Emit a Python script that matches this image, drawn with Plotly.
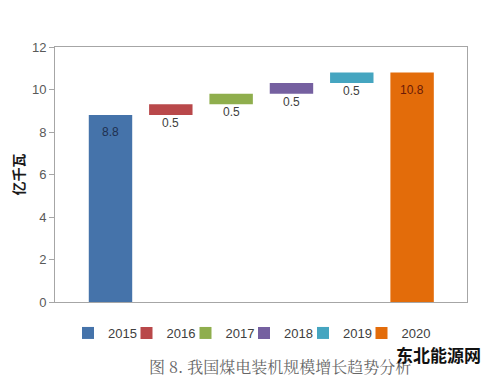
import plotly.graph_objects as go

years = ["2015", "2016", "2017", "2018", "2019", "2020"]
bases = [0, 8.8, 9.3, 9.8, 10.3, 0]
values = [8.8, 0.5, 0.5, 0.5, 0.5, 10.8]
labels = ["8.8", "0.5", "0.5", "0.5", "0.5", "10.8"]
colors = ["#4573AA", "#B9484A", "#8FAE4D", "#7560A0", "#45A5C0", "#E36C0A"]
label_colors = ["#1F3050", "#404040", "#404040", "#404040", "#404040", "#6B1A08"]
is_total = [True, False, False, False, False, True]
yticks = [0, 2, 4, 6, 8, 10, 12]

# The page body adds an 8px offset, so the figure is 8px smaller and shifted.
W, H = 492, 369
L, T, PW, PH = 47, 39, 412, 255
STEP = 58.5  # legend entry spacing in px


def px(xabs):
    return (xabs - 8 - L) / PW


def py(yabs):
    return (T + PH - (yabs - 8)) / PH


fig = go.Figure()
for i, yr in enumerate(years):
    fig.add_trace(go.Bar(
        x=[i], y=[values[i]], base=[bases[i]], name=yr,
        marker=dict(color=colors[i], line=dict(width=0)),
        width=0.72, hoverinfo="skip",
        legend="legend" if i % 2 == 0 else "legend2",
    ))
    if is_total[i]:
        fig.add_annotation(x=i, y=bases[i] + values[i], text=labels[i],
                           showarrow=False, yanchor="middle", yshift=-17,
                           font=dict(size=12, color=label_colors[i],
                                     family="Liberation Sans, Arial"))
    else:
        fig.add_annotation(x=i, y=bases[i], text=labels[i],
                           showarrow=False, yanchor="middle", yshift=-8,
                           font=dict(size=12, color=label_colors[i],
                                     family="Liberation Sans, Arial"))

legend_font = dict(size=13, color="#404040", family="Liberation Sans, Arial")
common = dict(orientation="h", y=py(333), xanchor="left", yanchor="middle",
              entrywidth=2 * STEP - 44.5, entrywidthmode="pixels", font=legend_font,
              itemclick=False, bgcolor="rgba(0,0,0,0)", tracegroupgap=0)

fig.update_layout(
    width=W, height=H,
    margin=dict(l=L, r=W - L - PW, t=T, b=H - T - PH, autoexpand=False),
    paper_bgcolor="white", plot_bgcolor="white",
    barmode="overlay",
    showlegend=True,
    legend=dict(x=px(68), **common),
    legend2=dict(x=px(68 + STEP), **common),
    xaxis=dict(range=[-0.92, 5.91], showticklabels=False, ticks="",
               showgrid=False, zeroline=False, showline=True, mirror=True,
               linecolor="#A6A6A6", linewidth=1),
    yaxis=dict(range=[0, 12], tickvals=yticks, ticks="outside", ticklen=5,
               tickcolor="#A6A6A6", showgrid=False, zeroline=False,
               showline=True, mirror=True, linecolor="#A6A6A6", linewidth=1,
               tickfont=dict(size=13, color="#595959", family="Liberation Sans, Arial"),
               title=dict(text="<b>亿千瓦</b>", standoff=4,
                          font=dict(size=14, color="#1a1a1a", family="Noto Sans CJK SC"))),
    font=dict(family="Noto Sans CJK SC"),
)

fig.add_annotation(xref="paper", yref="paper", x=px(280), y=py(366),
                   text="图 8. 我国煤电装机规模增长趋势分析", showarrow=False,
                   xanchor="center", yanchor="middle",
                   font=dict(size=16, color="#666666", family="Noto Serif CJK SC, Noto Sans CJK SC"))
fig.add_annotation(xref="paper", yref="paper", x=px(438), y=py(354),
                   text="<b>东北能源网</b>", showarrow=False,
                   xanchor="center", yanchor="middle",
                   font=dict(size=17, color="#111111", family="Noto Sans CJK SC"))

fig.write_html("out.html")
